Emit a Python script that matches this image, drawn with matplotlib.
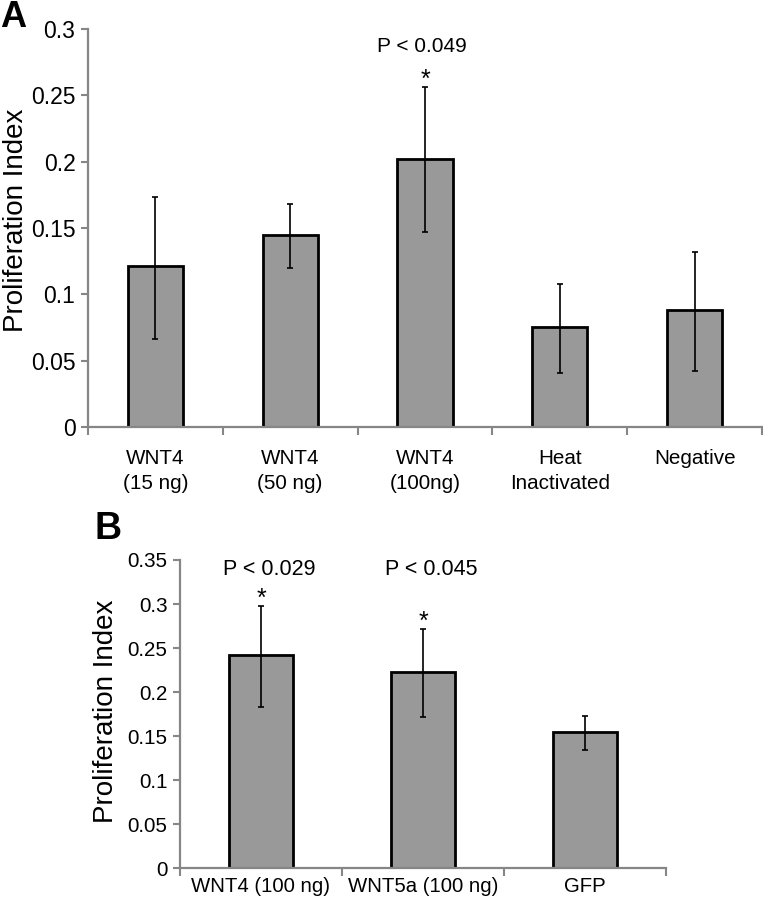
import numpy as np
import matplotlib
matplotlib.use('Agg')
from matplotlib import pyplot as plt
from matplotlib import font_manager as fm

# panel A
cats_a = ['WNT4\n(15 ng)', 'WNT4\n(50 ng)', 'WNT4\n(100ng)', 'Heat\nInactivated', 'Negative']
mean_a = [0.121, 0.145, 0.202, 0.075, 0.088]
lo_a = [0.066, 0.120, 0.147, 0.041, 0.042]
hi_a = [0.173, 0.168, 0.256, 0.108, 0.132]
pval_a = {2: 'P < 0.049'}
yticks_a = [0, 0.05, 0.1, 0.15, 0.2, 0.25, 0.3]
yticklabels_a = ['0', '0.05', '0.1', '0.15', '0.2', '0.25', '0.3']

# panel B
cats_b = ['WNT4 (100 ng)', 'WNT5a (100 ng)', 'GFP']
mean_b = [0.242, 0.223, 0.155]
lo_b = [0.183, 0.172, 0.134]
hi_b = [0.298, 0.272, 0.173]
pval_b = {0: 'P < 0.029', 1: 'P < 0.045'}
yticks_b = [0, 0.05, 0.1, 0.15, 0.2, 0.25, 0.3, 0.35]
yticklabels_b = ['0', '0.05', '0.1', '0.15', '0.2', '0.25', '0.3', '0.35']

plt.rcParams['font.family'] = ['Liberation Sans', 'DejaVu Sans']
grey = '#868686'

fig = plt.figure(figsize=(7.63, 9), dpi=100)
rend = fig.canvas.get_renderer()


def fit_size(text, target_px):
    # font size (pt) so that text is target_px wide
    w, h, d = rend.get_text_width_height_descent(
        text, fm.FontProperties(family='Liberation Sans', size=10), ismath=False)
    return 10 * target_px / w


xfs_a = fit_size('Inactivated', 100)
xfs_b = fit_size('WNT4 (100 ng)', 140)
yfs_b = fit_size('0.35', 40)

ax_a = fig.add_axes([0.1153, 0.5256, 0.8834, 0.4422])
ax_b = fig.add_axes([0.2359, 0.0352, 0.6370, 0.3426])


def panel(ax, cats, mean, lo, hi, pvals, yt, ytl, ymax, width, p_y,
          tick_fs, xlab_fs, xpad, p_fs, p_dx):
    x = np.arange(len(cats))
    mean = np.array(mean)
    err = [mean - np.array(lo), np.array(hi) - mean]
    ax.bar(x, mean, width, color='#999999', edgecolor='black', linewidth=2, zorder=2)
    ax.errorbar(x, mean, yerr=err, fmt='none', ecolor='black', elinewidth=1.2,
                capsize=2.5, capthick=1.2, zorder=3)
    for i, txt in pvals.items():
        ax.text(i, hi[i], '*', ha='center', va='baseline', fontsize=18)
        ax.annotate(txt, (i, p_y), xycoords=ax.get_xaxis_transform(),
                    xytext=(p_dx, 0), textcoords='offset points',
                    ha='center', va='baseline', fontsize=p_fs)
    ax.set_xlim(-0.5, len(cats) - 0.5)
    ax.set_ylim(0, ymax)
    ax.set_yticks(yt)
    ax.set_yticklabels(ytl, fontsize=tick_fs)
    ax.set_xticks(np.arange(len(cats) + 1) - 0.5)
    ax.set_xticklabels([])
    ax.set_xticks(x, minor=True)
    ax.set_xticklabels(cats, minor=True, fontsize=xlab_fs, linespacing=1.4)
    ax.tick_params(axis='x', which='minor', length=0, pad=xpad)
    ax.tick_params(axis='x', which='major', length=6, width=1.5, color=grey, direction='out')
    ax.tick_params(axis='y', length=5, width=1.5, color=grey, pad=4)
    for s in ['top', 'right']:
        ax.spines[s].set_visible(False)
    for s in ['left', 'bottom']:
        ax.spines[s].set_color(grey)
        ax.spines[s].set_linewidth(1.6)
    ax.set_ylabel('Proliferation Index', fontsize=20)


panel(ax_a, cats_a, mean_a, lo_a, hi_a, pval_a, yticks_a, yticklabels_a, 0.3, 0.41,
      0.942, 16.5, xfs_a, 16, 15, -2)
panel(ax_b, cats_b, mean_b, lo_b, hi_b, pval_b, yticks_b, yticklabels_b, 0.35, 0.40,
      0.951, yfs_b, xfs_b, 6, 15.5, 6)

ax_a.yaxis.set_label_coords(-0.0875, 0.52)
ax_b.yaxis.set_label_coords(-0.1255, 0.51)

fig.text(0.0, 1.0, 'A', fontsize=26, fontweight='bold', va='top')
fig.text(0.124, 0.401, 'B', fontsize=27, fontweight='bold', va='baseline')

fig.savefig('out.png', dpi=100)
